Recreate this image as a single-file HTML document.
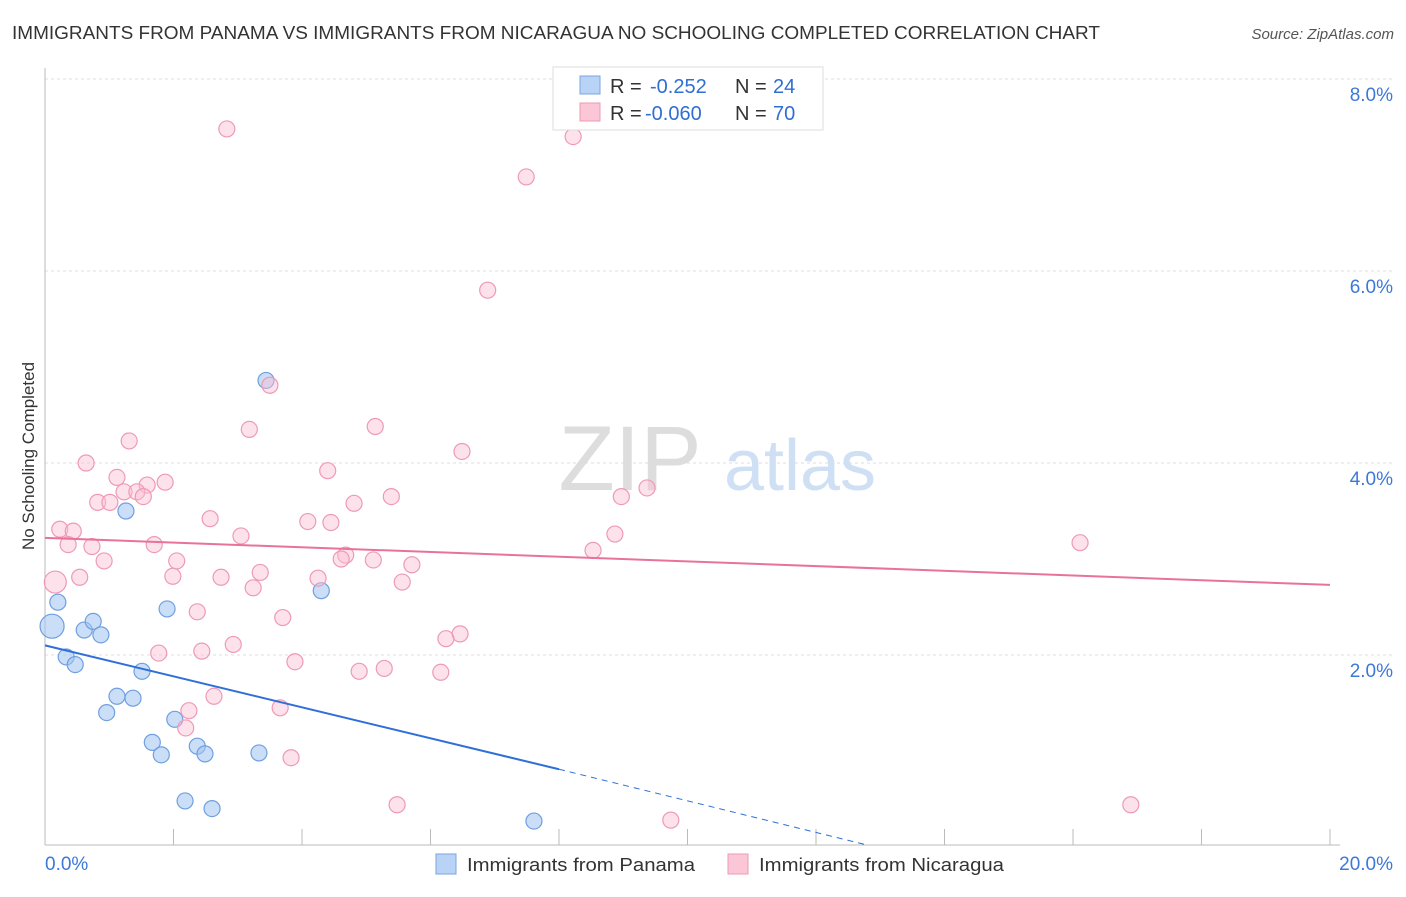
<!DOCTYPE html>
<html><head><meta charset="utf-8"><style>
body{margin:0;background:#fff;font-family:"Liberation Sans",sans-serif;}
svg text{font-family:"Liberation Sans",sans-serif;}
</style></head><body>
<svg width="1406" height="892">
<text x="12" y="39" font-size="18" fill="#333" textLength="1088" lengthAdjust="spacingAndGlyphs">IMMIGRANTS FROM PANAMA VS IMMIGRANTS FROM NICARAGUA NO SCHOOLING COMPLETED CORRELATION CHART</text>
<text x="1394" y="39" font-size="15" fill="#555" font-style="italic" text-anchor="end">Source: ZipAtlas.com</text>
<g id="grid"></g>
<text x="630" y="490" font-size="92" fill="#ddd" font-family="Liberation Serif" text-anchor="middle">ZIP</text>
<text x="800" y="490" font-size="72" fill="#cfe0f5" text-anchor="middle">atlas</text>
<text transform="translate(34,456) rotate(-90)" font-size="17" fill="#333" text-anchor="middle">No Schooling Completed</text>
<g id="marks"></g>
<g>
<rect x="553" y="67" width="270" height="63" fill="#fff" stroke="#ddd"/>
<rect x="580" y="76" width="20" height="18" fill="#b8d3f5" stroke="#7aa6e0"/>
<rect x="580" y="103" width="20" height="18" fill="#fbc7d6" stroke="#ee9ab5"/>
<text x="610" y="93" font-size="20" fill="#333">R =</text><text x="650" y="93" font-size="20" fill="#2f6fd0">-0.252</text>
<text x="735" y="93" font-size="20" fill="#333">N =</text><text x="773" y="93" font-size="20" fill="#2f6fd0">24</text>
<text x="610" y="120" font-size="20" fill="#333">R =</text><text x="645" y="120" font-size="20" fill="#2f6fd0">-0.060</text>
<text x="735" y="120" font-size="20" fill="#333">N =</text><text x="773" y="120" font-size="20" fill="#2f6fd0">70</text>
</g>
<g>
<rect x="436" y="854" width="20" height="20" fill="#b8d3f5" stroke="#7aa6e0"/>
<text x="467" y="871" font-size="18" fill="#333" textLength="228" lengthAdjust="spacingAndGlyphs">Immigrants from Panama</text>
<rect x="728" y="854" width="20" height="20" fill="#fbc7d6" stroke="#ee9ab5"/>
<text x="759" y="871" font-size="18" fill="#333" textLength="245" lengthAdjust="spacingAndGlyphs">Immigrants from Nicaragua</text>
</g>
</svg>
<script>
const xTicks=[0,20];
const yTicks=[2,4,6,8];
const panamaX=[0.11,0.2,0.33,0.47,0.61,0.75,0.87,0.96,1.12,1.26,1.37,1.51,1.67,1.81,1.9,2.02,2.18,2.37,2.49,2.6,3.33,3.44,4.3,7.61];
const panamaY=[2.3,2.55,1.98,1.9,2.26,2.35,2.21,1.4,1.57,3.5,1.55,1.83,1.09,0.96,2.48,1.33,0.48,1.05,0.97,0.4,0.98,4.86,2.67,0.27];
const nicX=[2.83,8.22,7.49,6.89,3.5,5.14,3.18,1.31,6.49,0.64,4.4,1.12,1.87,1.59,1.23,1.43,1.53,5.39,0.82,1.01,4.81,8.97,9.37,2.57,4.09,4.45,0.23,0.44,3.05,8.87,0.36,1.7,0.73,4.68,8.53,4.61,5.11,2.05,0.92,5.71,3.35,0.54,1.99,2.74,4.25,5.56,3.24,0.16,16.11,2.37,3.7,6.46,6.24,2.93,2.44,1.77,3.89,5.28,4.89,6.16,2.63,2.24,3.66,2.19,3.83,5.48,16.9,9.74];
const nicY=[7.48,7.4,6.98,5.8,4.81,4.38,4.35,4.23,4.12,4.0,3.92,3.85,3.8,3.77,3.7,3.7,3.65,3.65,3.59,3.59,3.58,3.65,3.74,3.42,3.39,3.38,3.31,3.29,3.24,3.26,3.15,3.15,3.13,3.04,3.09,3.0,2.99,2.98,2.98,2.94,2.86,2.81,2.82,2.81,2.8,2.76,2.7,2.76,3.17,2.45,2.39,2.22,2.17,2.11,2.04,2.02,1.93,1.86,1.83,1.82,1.57,1.42,1.45,1.24,0.93,0.44,0.44,0.28];
const panamaTrend=[[0,2.1],[8,0.81],[12.8,0.02]];
const nicTrend=[[0,3.22],[20,2.73]];
const X=v=>45+v*64.25, Y=v=>847-v*96;
const NS='http://www.w3.org/2000/svg';
function mk(t,a,p){const e=document.createElementNS(NS,t);for(const k in a)e.setAttribute(k,a[k]);p.appendChild(e);return e;}
const g=document.getElementById('grid'), m=document.getElementById('marks');
yTicks.forEach(v=>{
 const l=mk('line',{x1:45,x2:1394,y1:Y(v),y2:Y(v),stroke:'#ddd','stroke-dasharray':'3,3'},g);
 
 
 const t=mk('text',{x:1393,y:Y(v)+22,'font-size':19,fill:'#3d78d8','text-anchor':'end'},g);t.textContent=v.toFixed(1)+'%';
 
 
});
mk('line',{x1:45,x2:45,y1:68,y2:845,stroke:'#bbb'},g);
mk('line',{x1:45,x2:1340,y1:845,y2:845,stroke:'#bbb'},g);
for(let i=1;i<=10;i++){const x=X(i*2);mk('line',{x1:x,x2:x,y1:829,y2:845,stroke:'#bbb'},g);}
xTicks.forEach((v,i)=>{const t=mk('text',{x:i?1393:45,y:870,'font-size':19,fill:'#3d78d8','text-anchor':i?'end':'start'},g);t.textContent=v.toFixed(1)+'%';
 
 });
panamaX.forEach((v,i)=>{const c=mk('circle',{cx:X(v),cy:Y(panamaY[i]),r:i==0?12:8,fill:'rgba(160,195,240,0.55)',stroke:'#6f9fe0','stroke-width':1.2},m);
 
 });
nicX.forEach((v,i)=>{const c=mk('circle',{cx:X(v),cy:Y(nicY[i]),r:i==47?11:8,fill:'rgba(250,190,210,0.45)',stroke:'#ee9ab5','stroke-width':1.2},m);
 
 });
let l=mk('line',{x1:X(panamaTrend[0][0]),y1:Y(panamaTrend[0][1]),x2:X(panamaTrend[1][0]),y2:Y(panamaTrend[1][1]),stroke:'#2f6fd8','stroke-width':2},m);


l=mk('line',{x1:X(panamaTrend[1][0]),y1:Y(panamaTrend[1][1]),x2:X(panamaTrend[2][0]),y2:Y(panamaTrend[2][1]),stroke:'#2f6fd8','stroke-width':1,'stroke-dasharray':'6,5'},m);


l=mk('line',{x1:X(nicTrend[0][0]),y1:Y(nicTrend[0][1]),x2:X(nicTrend[1][0]),y2:Y(nicTrend[1][1]),stroke:'#e8729c','stroke-width':2},m);


</script>
</body></html>
